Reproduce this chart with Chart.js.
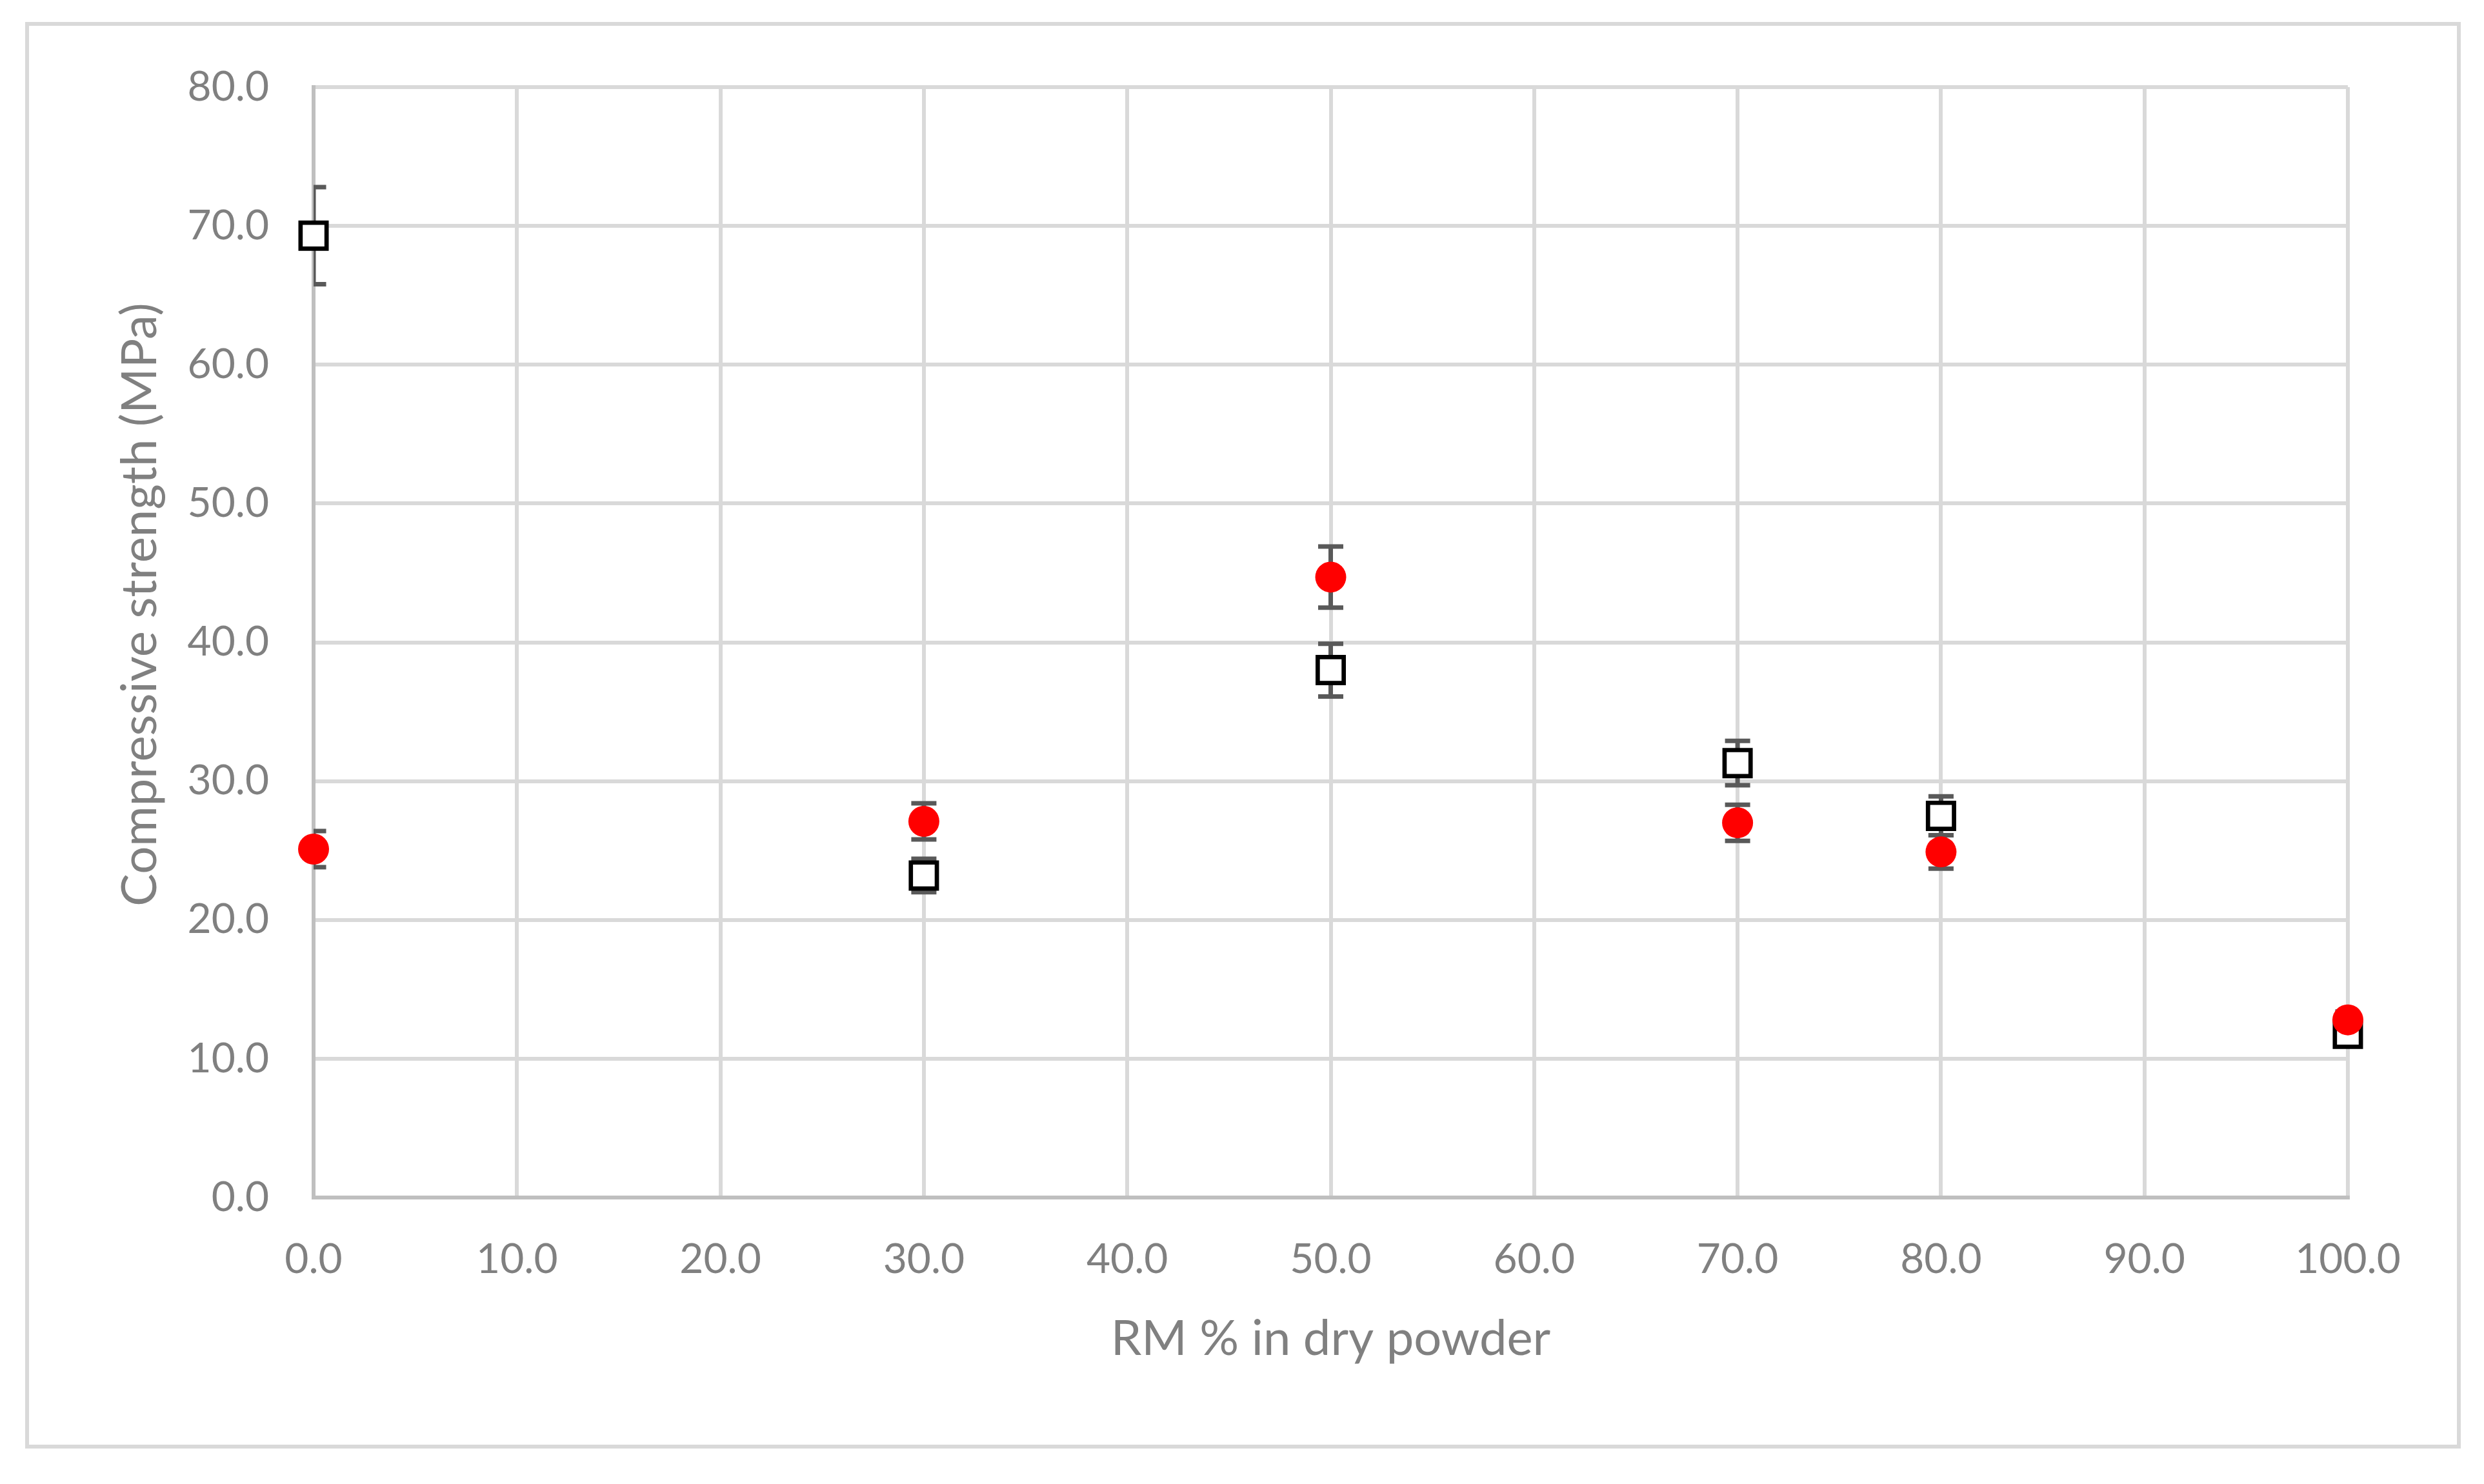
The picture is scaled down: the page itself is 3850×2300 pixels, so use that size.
<!DOCTYPE html>
<html>
<head>
<meta charset="utf-8">
<script src="https://cdn.jsdelivr.net/npm/chart.js@4.4.1/dist/chart.umd.min.js"></script>
<style>
  html, body { margin: 0; padding: 0; background: #ffffff; }
  #wrap { width: 3850px; height: 2300px; position: relative; }
</style>
</head>
<body>
<div id="wrap"><canvas id="c" width="3850" height="2300"></canvas></div>
<script>
// ---- data ----
const rmPercent = [0, 30, 50, 70, 80, 100];
const squareStrength = [69.3, 23.2, 38.0, 31.3, 27.5, 11.8];
const squareError = [3.5, 1.2, 1.9, 1.6, 1.4, 0.6];
const circleStrength = [25.1, 27.1, 44.7, 27.0, 24.9, 12.8];
const circleError = [1.3, 1.3, 2.2, 1.3, 1.2, 0.6];
const xTickLabels = ["0.0", "10.0", "20.0", "30.0", "40.0", "50.0", "60.0", "70.0", "80.0", "90.0", "100.0"];
const yTickLabels = ["0.0", "10.0", "20.0", "30.0", "40.0", "50.0", "60.0", "70.0", "80.0"];
const xTitle = "RM % in dry powder";
const yTitle = "Compressive strength (MPa)";

const squarePoints = rmPercent.map((x, i) => ({ x: x, y: squareStrength[i], err: squareError[i] }));
const circlePoints = rmPercent.map((x, i) => ({ x: x, y: circleStrength[i], err: circleError[i] }));

const FONT = "Lato, 'Open Sans', sans-serif";
const GRID = '#d9d9d9';
const AXIS = '#bfbfbf';
const TEXT = '#808080';

const frame = {
  id: 'frame',
  beforeDraw(chart) {
    const ctx = chart.ctx;
    ctx.save();
    ctx.fillStyle = '#ffffff';
    ctx.fillRect(0, 0, chart.width, chart.height);
    ctx.strokeStyle = GRID;
    ctx.lineWidth = 6;
    ctx.strokeRect(42, 37, 3769, 2205);
    ctx.restore();
  },
  afterDraw(chart) {
    // vertical axis title (Excel places it slightly above the plot centre)
    const ctx = chart.ctx;
    ctx.save();
    ctx.translate(217, 937);
    ctx.rotate(-Math.PI / 2);
    ctx.fillStyle = TEXT;
    ctx.font = "76px " + FONT;
    ctx.textAlign = 'center';
    ctx.textBaseline = 'middle';
    ctx.fillText(yTitle, 0, 0);
    ctx.restore();
  }
};

const errorBars = {
  id: 'errorBars',
  beforeDatasetsDraw(chart) {
    const ctx = chart.ctx;
    const xs = chart.scales.x, ys = chart.scales.y;
    const a = chart.chartArea;
    ctx.save();
    ctx.beginPath();
    ctx.rect(a.left, a.top, a.right - a.left, a.bottom - a.top);
    ctx.clip();
    ctx.strokeStyle = '#595959';
    ctx.lineWidth = 7;
    ctx.lineCap = 'butt';
    chart.data.datasets.forEach(ds => {
      ds.data.forEach(p => {
        const px = xs.getPixelForValue(p.x);
        const top = ys.getPixelForValue(p.y + p.err);
        const bot = ys.getPixelForValue(p.y - p.err);
        ctx.beginPath();
        ctx.moveTo(px, top); ctx.lineTo(px, bot);
        ctx.moveTo(px - 19.5, top); ctx.lineTo(px + 19.5, top);
        ctx.moveTo(px - 19.5, bot); ctx.lineTo(px + 19.5, bot);
        ctx.stroke();
      });
    });
    ctx.restore();
  }
};

new Chart(document.getElementById('c'), {
  type: 'scatter',
  data: {
    datasets: [
      {
        label: 'open',
        data: squarePoints,
        order: 1,
        pointStyle: 'rect',
        pointRadius: 28.5,
        pointHoverRadius: 28.5,
        pointBorderWidth: 6.7,
        pointBackgroundColor: '#ffffff',
        pointBorderColor: '#000000',
        showLine: false,
        clip: false
      },
      {
        label: 'filled',
        data: circlePoints,
        order: 0,
        pointStyle: 'circle',
        pointRadius: 24,
        pointHoverRadius: 24,
        pointBorderWidth: 0,
        pointBackgroundColor: '#ff0000',
        pointBorderColor: '#ff0000',
        showLine: false,
        clip: false
      }
    ]
  },
  options: {
    responsive: false,
    animation: false,
    devicePixelRatio: 1,
    layout: { padding: { top: 135, right: 211, left: 0, bottom: 0 } },
    plugins: {
      legend: { display: false },
      tooltip: { enabled: false },
      title: { display: false }
    },
    scales: {
      x: {
        type: 'linear',
        min: 0, max: 100,
        afterFit(scale) { scale.height = 444; },
        afterBuildTicks(scale) { scale.ticks = xTickLabels.map((t, i) => ({ value: i * 10 })); },
        ticks: {
          stepSize: 10,
          padding: 58,
          color: TEXT,
          font: { family: FONT, size: 64 },
          maxRotation: 0,
          callback: (v, i) => xTickLabels[i]
        },
        grid: { color: GRID, lineWidth: 6, drawTicks: false },
        border: { color: AXIS, width: 6 },
        title: {
          display: true,
          text: xTitle,
          color: TEXT,
          font: { family: FONT, size: 76 },
          padding: { top: 0, bottom: 179 }
        }
      },
      y: {
        type: 'linear',
        min: 0, max: 80,
        afterFit(scale) { scale.width = 486; },
        afterBuildTicks(scale) { scale.ticks = yTickLabels.map((t, i) => ({ value: i * 10 })); },
        ticks: {
          stepSize: 10,
          padding: 69,
          color: TEXT,
          font: { family: FONT, size: 64 },
          callback: (v, i) => yTickLabels[i]
        },
        grid: { color: GRID, lineWidth: 6, drawTicks: false },
        border: { color: AXIS, width: 6 },
        title: { display: false, text: yTitle }
      }
    }
  },
  plugins: [frame, errorBars]
});
</script>
</body>
</html>
